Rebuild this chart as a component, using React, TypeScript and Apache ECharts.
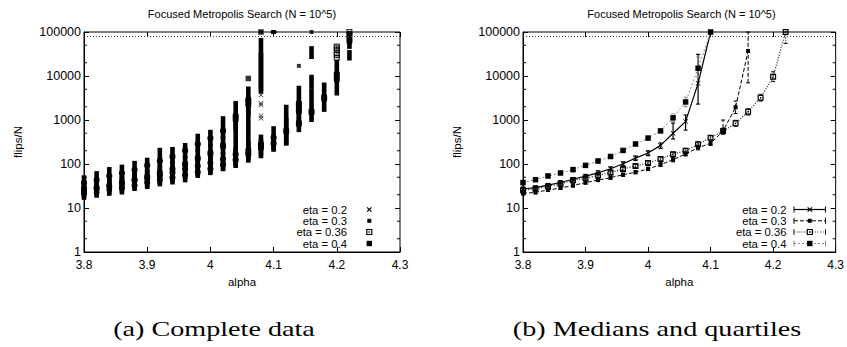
import { useEffect, useRef } from "react";
import * as echarts from "echarts";

// alpha grid shared by both panels
const alphas = [3.8, 3.82, 3.84, 3.86, 3.88, 3.9, 3.92, 3.94, 3.96, 3.98, 4.0, 4.02, 4.04, 4.06, 4.08, 4.1, 4.12, 4.14, 4.16, 4.18, 4.2, 4.22];
const xMin = 3.8;
const xMax = 4.3;
const yTickLabels = [1, 10, 100, 1000, 10000, 100000];
const minorTickValues = [2, 5, 20, 50, 200, 500, 2000, 5000, 20000, 50000];
const cutoff = 80000;

// medians and quartiles of flips/N
const median02 = [27, 29, 33, 38, 45, 53, 63, 78, 101, 136, 178, 265, 500, 920, 6800, 100000];
const q1_02 = [25, 27, 31, 35, 41, 48, 57, 70, 90, 120, 155, 225, 370, 590, 2300, 100000];
const q3_02 = [30, 32, 36, 42, 49, 58, 70, 86, 112, 152, 200, 300, 850, 1300, 31000, 100000];

const median03 = [21.5, 22.6, 25.6, 28.5, 32.5, 37.8, 43, 49, 57, 65, 77, 97, 125, 169, 235, 295, 560, 1950, 37000];
const q1_03 = [20, 21, 24, 26.5, 30, 35, 40, 45, 52, 60, 71, 88, 112, 152, 210, 265, 480, 1400, 7000];
const q3_03 = [23.5, 24.5, 28, 31, 35.5, 41, 47, 54, 62, 71, 85, 107, 140, 190, 265, 330, 1000, 2700, 100000];

const median036 = [25.3, 27.3, 31, 35.3, 42.5, 47.5, 55, 64, 77, 90, 106, 130, 167, 200, 280, 395, 560, 840, 1550, 3200, 9600, 100000];
const q1_036 = [23.5, 25, 28.5, 32.5, 38.5, 43.5, 50, 58.5, 71, 83, 97, 118, 150, 180, 250, 355, 480, 720, 1300, 2700, 7500, 55000];
const q3_036 = [27.5, 29.5, 33.5, 38.5, 46.5, 52, 60, 70, 84, 98, 116, 143, 185, 225, 315, 440, 650, 980, 1800, 3800, 12500, 100000];

const median04 = [37.8, 44, 53.5, 62.5, 74.5, 93, 117, 148, 203, 285, 388, 565, 1120, 2570, 15000, 100000];
const q1_04 = [34.5, 40, 48.5, 57, 67.5, 84, 106, 134, 183, 258, 350, 515, 920, 2000, 9500, 100000];
const q3_04 = [41.5, 48, 59, 68.5, 82, 103, 130, 164, 225, 315, 430, 630, 1380, 3300, 27000, 100000];

// spread of all runs per alpha (lowest and highest flips/N)
const runsMin02 = [22, 24, 27, 31, 36, 42, 50, 60, 78, 100, 130, 180, 200, 280, 4400, 100000];
const runsMax02 = [34, 37, 42, 50, 58, 70, 85, 105, 140, 200, 260, 400, 900, 1800, 31000, 100000];
const segments02: number[][] = [];
const singles02 = [[4.08, 1100], [4.08, 1250], [4.08, 2200], [4.08, 2400], [4.08, 3700], [4.08, 100000]];

const runsMin03 = [17, 19, 21, 22.5, 27, 30, 34.5, 38, 42.5, 53.5, 62, 76, 90, 119, 150, 210, 300, 900, 5700];
const runsMax03 = [28, 29, 33, 37, 42, 48, 55, 62, 72, 85, 100, 125, 160, 230, 330, 420, 1000, 5400, 9600];
const segments03 = [[4.16, 27000, 43000]];
const singles03 = [[4.14, 17000], [4.16, 100000]];

const runsMin036 = [19, 21, 23, 25, 30, 33, 38, 43, 50, 58, 68, 82, 100, 130, 170, 230, 290, 590, 1000, 1700, 4000, 25000];
const runsMax036 = [33, 36, 40, 46, 55, 62, 72, 82, 100, 115, 135, 170, 210, 300, 420, 650, 2000, 1500, 4700, 6400, 21000, 35000];
const segments036 = [[4.22, 46000, 77000]];
const singles036 = [[4.2, 26000], [4.2, 30000], [4.2, 33000], [4.2, 39000], [4.2, 43000], [4.2, 47000], [4.22, 100000]];

const runsMin04 = [28, 33, 40, 47, 56, 70, 90, 110, 150, 210, 280, 400, 650, 1400, 5000, 100000];
const runsMax04 = [50, 62, 77, 87, 106, 125, 210, 220, 270, 440, 540, 1100, 2450, 5200, 31000, 100000];
const segments04 = [[4.08, 38000, 66000]];
const singles04 = [[4.06, 8800], [4.08, 100000]];

const SANS = "'Liberation Sans', Arial, Helvetica, sans-serif";
const SERIF = "'Liberation Serif', 'Times New Roman', serif";

const crossPath = "path://M0,1L1,0L5,4L9,0L10,1L6,5L10,9L9,10L5,6L1,10L0,9L4,5Z";
const dotSquarePath = "path://M0,0H10V10H0Z M2,2V8H8V2Z M4,4H6V6H4Z";

type Spec = {
  label: string;
  median: number[];
  q1: number[];
  q3: number[];
  runsMin: number[];
  runsMax: number[];
  segments: number[][];
  singles: number[][];
  marker: "cross" | "smallSquare" | "dotSquare" | "square";
  symbol: string;
  symbolSize: number;
  lineColor: string;
  dash: number[] | null;
  lineWidth: number;
};

const specs: Spec[] = [
  { label: "eta = 0.2", median: median02, q1: q1_02, q3: q3_02, runsMin: runsMin02, runsMax: runsMax02, segments: segments02, singles: singles02, marker: "cross", symbol: crossPath, symbolSize: 5, lineColor: "#000", dash: null, lineWidth: 1.2 },
  { label: "eta = 0.3", median: median03, q1: q1_03, q3: q3_03, runsMin: runsMin03, runsMax: runsMax03, segments: segments03, singles: singles03, marker: "smallSquare", symbol: "rect", symbolSize: 4, lineColor: "#000", dash: [4, 2], lineWidth: 1 },
  { label: "eta = 0.36", median: median036, q1: q1_036, q3: q3_036, runsMin: runsMin036, runsMax: runsMax036, segments: segments036, singles: singles036, marker: "dotSquare", symbol: dotSquarePath, symbolSize: 6, lineColor: "#222", dash: [1, 1.6], lineWidth: 1.2 },
  { label: "eta = 0.4", median: median04, q1: q1_04, q3: q3_04, runsMin: runsMin04, runsMax: runsMax04, segments: segments04, singles: singles04, marker: "square", symbol: "rect", symbolSize: 5.5, lineColor: "#8a8a8a", dash: [2, 2], lineWidth: 1 },
];

// vertical bar spanning the runs at one alpha, slightly thickened over the dense middle half
const rangeBar = (_params: any, api: any) => {
  const a = api.value(0);
  const lo = api.coord([a, api.value(1)]);
  const hi = api.coord([a, api.value(2)]);
  const children: any[] = [
    {
      type: "rect",
      shape: { x: lo[0] - 2.3, y: hi[1] - 2, width: 4.6, height: Math.max(lo[1] - hi[1] + 4, 4) },
      style: { fill: "#000" },
    },
  ];
  const q1 = api.value(3);
  const q3 = api.value(4);
  if (q1 > 0 && q3 > 0 && q3 / q1 < 2) {
    const p1 = api.coord([a, q1]);
    const p3 = api.coord([a, q3]);
    children.push({
      type: "rect",
      shape: { x: p1[0] - 3, y: p3[1] - 1, width: 6, height: p1[1] - p3[1] + 2, r: 2.5 },
      style: { fill: "#000" },
    });
  }
  return { type: "group", children };
};

// quartile error bar with caps
const errorBar = (stroke: string, dash: number[] | null, width: number) => (_params: any, api: any) => {
  const a = api.value(0);
  const q1 = api.value(1);
  const q3 = api.value(2);
  if (!(q3 > q1)) return { type: "group", children: [] };
  const p1 = api.coord([a, q1]);
  const p3 = api.coord([a, q3]);
  const solid = { stroke, lineWidth: width };
  return {
    type: "group",
    children: [
      { type: "line", shape: { x1: p1[0], y1: p1[1], x2: p3[0], y2: p3[1] }, style: dash ? { ...solid, lineDash: dash } : solid },
      { type: "line", shape: { x1: p1[0] - 2, y1: p1[1], x2: p1[0] + 2, y2: p1[1] }, style: solid },
      { type: "line", shape: { x1: p3[0] - 2, y1: p3[1], x2: p3[0] + 2, y2: p3[1] }, style: solid },
    ],
  };
};

// minor ticks on both vertical borders of a panel
const minorTick = (params: any, api: any) => {
  const cs = params.coordSys;
  const y = api.coord([xMin, api.value(1)])[1];
  const st = { stroke: "#000", lineWidth: 1 };
  return {
    type: "group",
    children: [
      { type: "line", shape: { x1: cs.x, y1: y, x2: cs.x + 3, y2: y }, style: st },
      { type: "line", shape: { x1: cs.x + cs.width - 3, y1: y, x2: cs.x + cs.width, y2: y }, style: st },
    ],
  };
};

const legendMarker = (kind: Spec["marker"], cx: number, cy: number): any[] => {
  if (kind === "cross") {
    const st = { stroke: "#000", lineWidth: 1.2 };
    return [
      { type: "line", shape: { x1: cx - 2.2, y1: cy - 2.2, x2: cx + 2.2, y2: cy + 2.2 }, style: st },
      { type: "line", shape: { x1: cx - 2.2, y1: cy + 2.2, x2: cx + 2.2, y2: cy - 2.2 }, style: st },
    ];
  }
  if (kind === "smallSquare") {
    return [{ type: "rect", shape: { x: cx - 2, y: cy - 2, width: 4, height: 4 }, style: { fill: "#000" } }];
  }
  if (kind === "dotSquare") {
    return [
      { type: "rect", shape: { x: cx - 2.5, y: cy - 2.5, width: 5, height: 5 }, style: { fill: "none", stroke: "#000", lineWidth: 1.2 } },
      { type: "rect", shape: { x: cx - 0.7, y: cy - 0.7, width: 1.4, height: 1.4 }, style: { fill: "#000" } },
    ];
  }
  return [{ type: "rect", shape: { x: cx - 2.7, y: cy - 2.7, width: 5.4, height: 5.4 }, style: { fill: "#000" } }];
};

const legendRows = [209.5, 220.8, 232, 243.5];

const xAxisPair = (gridIndex: number) => [
  {
    type: "value",
    gridIndex,
    min: xMin,
    max: xMax,
    interval: 0.1,
    position: "bottom",
    name: "alpha",
    nameLocation: "middle",
    nameGap: 23,
    nameTextStyle: { fontFamily: SANS, fontSize: 11.5, color: "#000" },
    axisLine: { show: true, lineStyle: { color: "#000", width: 1 } },
    axisTick: { inside: true, length: 5, lineStyle: { color: "#000" } },
    axisLabel: { fontFamily: SANS, fontSize: 12, lineHeight: 12, color: "#000", margin: 7, formatter: (v: number) => String(+v.toFixed(1)) },
    splitLine: { show: false },
  },
  {
    type: "value",
    gridIndex,
    min: xMin,
    max: xMax,
    interval: 0.1,
    position: "top",
    axisLine: { show: false },
    axisTick: { inside: true, length: 5, lineStyle: { color: "#000" } },
    axisLabel: { show: false },
    splitLine: { show: false },
  },
];

const yAxisPair = (gridIndex: number) => [
  {
    type: "log",
    logBase: 10,
    gridIndex,
    min: yTickLabels[0],
    max: yTickLabels[yTickLabels.length - 1],
    position: "left",
    name: "flips/N",
    nameLocation: "middle",
    nameRotate: 90,
    nameGap: 60,
    nameTextStyle: { fontFamily: SANS, fontSize: 11.5, color: "#000" },
    axisLine: { show: true, lineStyle: { color: "#000", width: 1 } },
    axisTick: { inside: true, length: 5, lineStyle: { color: "#000" } },
    axisLabel: { fontFamily: SANS, fontSize: 12.5, lineHeight: 12, color: "#000", margin: 3, formatter: (v: number) => String(Math.round(v)) },
    splitLine: { show: false },
  },
  {
    type: "log",
    logBase: 10,
    gridIndex,
    min: yTickLabels[0],
    max: yTickLabels[yTickLabels.length - 1],
    position: "right",
    axisLine: { show: false },
    axisTick: { inside: true, length: 5, lineStyle: { color: "#000" } },
    axisLabel: { show: false },
    splitLine: { show: false },
  },
];

const cutoffLine = {
  silent: true,
  symbol: "none",
  label: { show: false },
  lineStyle: { type: [1, 2], color: "#444", width: 1 },
  data: [{ yAxis: cutoff }],
};

function buildOption() {
  const series: any[] = [];
  const minorData = minorTickValues.map((v) => [xMin, v]);

  // left panel: every run
  series.push({ type: "custom", xAxisIndex: 0, yAxisIndex: 0, data: minorData, encode: { x: 0, y: 1 }, renderItem: minorTick, silent: true });
  specs.forEach((s, k) => {
    const rows = s.runsMin.map((lo, i) => [alphas[i], lo, s.runsMax[i], s.q1[i], s.q3[i]]);
    s.segments.forEach((g) => rows.push([g[0], g[1], g[2], 0, 0]));
    series.push({
      type: "custom",
      name: s.label,
      xAxisIndex: 0,
      yAxisIndex: 0,
      data: rows,
      encode: { x: 0, y: [1, 2] },
      renderItem: rangeBar,
      silent: true,
    });
    series.push({
      type: "scatter",
      name: s.label,
      xAxisIndex: 0,
      yAxisIndex: 0,
      data: s.singles,
      symbol: s.symbol,
      symbolSize: s.symbolSize,
      itemStyle: { color: "#000" },
      silent: true,
      markLine: k === 0 ? cutoffLine : undefined,
    });
  });

  // right panel: medians with quartile bars
  series.push({ type: "custom", xAxisIndex: 2, yAxisIndex: 2, data: minorData, encode: { x: 0, y: 1 }, renderItem: minorTick, silent: true });
  specs.forEach((s, k) => {
    series.push({
      type: "custom",
      name: s.label,
      xAxisIndex: 2,
      yAxisIndex: 2,
      data: s.median.map((_m, i) => [alphas[i], s.q1[i], s.q3[i]]),
      encode: { x: 0, y: [1, 2] },
      renderItem: errorBar(s.lineColor, s.dash, s.lineWidth),
      silent: true,
    });
    series.push({
      type: "line",
      name: s.label,
      xAxisIndex: 2,
      yAxisIndex: 2,
      data: s.median.map((m, i) => [alphas[i], m]),
      symbol: s.symbol,
      symbolSize: s.symbolSize,
      showSymbol: true,
      itemStyle: { color: "#000" },
      lineStyle: { color: s.lineColor, width: s.lineWidth, type: s.dash ? s.dash : "solid" },
      silent: true,
      markLine: k === 0 ? cutoffLine : undefined,
    });
  });

  const graphics: any[] = [];
  const txt = (text: string, x: number, y: number) => ({
    type: "text",
    x,
    y,
    style: { text, fill: "#000", font: `11.3px ${SANS}`, textAlign: "right", textVerticalAlign: "middle", align: "right", verticalAlign: "middle" },
  });
  specs.forEach((s, i) => {
    const y = legendRows[i];
    // left key: marker only
    graphics.push(txt(s.label, 347, y));
    legendMarker(s.marker, 369.3, y).forEach((g) => graphics.push(g));
    // right key: line sample with caps and marker
    graphics.push(txt(s.label, 786.5, y));
    const stroke = s.lineColor;
    graphics.push({ type: "line", shape: { x1: 794, y1: y, x2: 825.5, y2: y }, style: s.dash ? { stroke, lineWidth: s.lineWidth, lineDash: s.dash } : { stroke, lineWidth: s.lineWidth } });
    graphics.push({ type: "line", shape: { x1: 794, y1: y - 3, x2: 794, y2: y + 3 }, style: { stroke, lineWidth: 1 } });
    graphics.push({ type: "line", shape: { x1: 825.5, y1: y - 3, x2: 825.5, y2: y + 3 }, style: { stroke, lineWidth: 1 } });
    legendMarker(s.marker, 809.8, y).forEach((g) => graphics.push(g));
  });
  const caption = (text: string, x: number) => ({
    type: "text",
    x,
    y: 328,
    scaleX: 1.28,
    style: { text, fill: "#000", font: `22px ${SERIF}`, textAlign: "center", textVerticalAlign: "middle", align: "center", verticalAlign: "middle" },
  });
  graphics.push(caption("(a) Complete data", 214));
  graphics.push(caption("(b) Medians and quartiles", 657));

  const titleStyle = { fontFamily: SANS, fontSize: 11, fontWeight: "normal", color: "#000" };
  return {
    animation: false,
    backgroundColor: "#fff",
    title: [
      { text: "Focused Metropolis Search (N = 10^5)", left: 242, top: 8, textAlign: "center", padding: 0, textStyle: titleStyle },
      { text: "Focused Metropolis Search (N = 10^5)", left: 681.5, top: 8, textAlign: "center", padding: 0, textStyle: titleStyle },
    ],
    grid: [
      { left: 84, top: 32, width: 316, height: 220, show: true, borderColor: "#000", borderWidth: 1, containLabel: false },
      { left: 523, top: 32, width: 316, height: 220, show: true, borderColor: "#000", borderWidth: 1, containLabel: false },
    ],
    xAxis: [...xAxisPair(0), ...xAxisPair(1)],
    yAxis: [...yAxisPair(0), ...yAxisPair(1)],
    series,
    graphic: graphics,
  };
}

export default function App() {
  const ref = useRef<HTMLDivElement>(null);
  useEffect(() => {
    if (!ref.current) return;
    const chart = echarts.init(ref.current, undefined, { renderer: "svg" });
    chart.setOption(buildOption() as any);
    return () => chart.dispose();
  }, []);
  return (
    <div
      ref={ref}
      style={{ position: "fixed", left: 0, top: 0, width: 847, height: 347, background: "#fff" }}
    />
  );
}
